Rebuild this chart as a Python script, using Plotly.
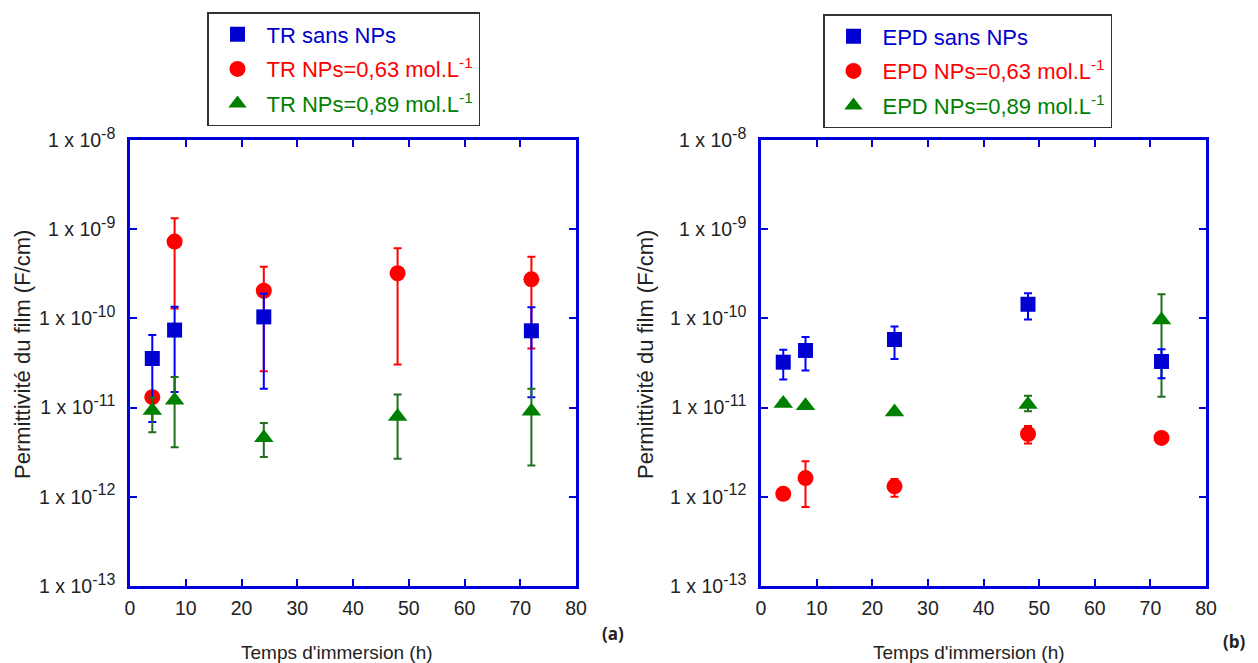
import plotly.graph_objects as go

# ---------------- data ----------------
# Panel (a): TR
tr_sans_h = [4, 8, 24, 72]
tr_sans = [3.55e-11, 7.4e-11, 1.04e-10, 7.26e-11]
tr_sans_hi = [6.5e-11, 1.35e-10, 1.9e-10, 1.33e-10]
tr_sans_lo = [6.9e-12, 1.5e-11, 1.63e-11, 1.31e-11]

tr_063_h = [4, 8, 24, 48, 72]
tr_063 = [1.31e-11, 7.26e-10, 2.04e-10, 3.21e-10, 2.74e-10]
tr_063_hi = [1.31e-11, 1.33e-9, 3.8e-10, 6.1e-10, 4.9e-10]
tr_063_lo = [1.31e-11, 1.29e-10, 2.56e-11, 3.04e-11, 4.6e-11]

tr_089_h = [4, 8, 24, 48, 72]
tr_089 = [9.3e-12, 1.21e-11, 4.6e-12, 7.97e-12, 9.1e-12]
tr_089_hi = [1.3e-11, 2.2e-11, 6.7e-12, 1.4e-11, 1.63e-11]
tr_089_lo = [5.3e-12, 3.6e-12, 2.8e-12, 2.67e-12, 2.25e-12]

# Panel (b): EPD
epd_sans_h = [4, 8, 24, 48, 72]
epd_sans = [3.23e-11, 4.37e-11, 5.8e-11, 1.44e-10, 3.29e-11]
epd_sans_hi = [4.45e-11, 6.2e-11, 8.1e-11, 1.91e-10, 4.5e-11]
epd_sans_lo = [2.06e-11, 2.6e-11, 3.5e-11, 9.7e-11, 2.14e-11]

epd_063_h = [4, 8, 24, 48, 72]
epd_063 = [1.08e-12, 1.62e-12, 1.31e-12, 5.06e-12, 4.57e-12]
epd_063_hi = [1.08e-12, 2.5e-12, 1.58e-12, 6.2e-12, 4.57e-12]
epd_063_lo = [1.08e-12, 7.7e-13, 1.0e-12, 3.95e-12, 4.57e-12]

epd_089_h = [4, 8, 24, 48, 72]
epd_089 = [1.11e-11, 1.05e-11, 8.95e-12, 1.08e-11, 9.6e-11]
epd_089_hi = [1.2e-11, 1.05e-11, 8.95e-12, 1.36e-11, 1.86e-10]
epd_089_lo = [1.05e-11, 1.05e-11, 8.95e-12, 9.1e-12, 1.32e-11]

x_ticks = [0, 10, 20, 30, 40, 50, 60, 70, 80]
y_exponents = [-13, -12, -11, -10, -9, -8]
y_ticks = [10.0 ** e for e in y_exponents]
y_ticktext = ["1 x 10<sup><span style='font-size:16px'>%d</span></sup>" % e
              for e in y_exponents]

x_title = "Temps d'immersion (h)"
y_title = "Permittivité du film (F/cm)"

# ---------------- styles ----------------
BLUE = "#0000d0"
BLUE_ERR = "#0000ff"
RED = "#ff0000"
GREEN = "#008000"
GREEN_ERR = "#1f6f1f"
AXIS = "#0000dd"
FONT = "Liberation Sans, Arial, sans-serif"
TXT = "#222222"

# the page body has an 8px margin: figure is drawn at (8, 8)
OFF = 8
W, H = 1258 - OFF, 663 - OFF


def px(x):
    return (x - OFF) / W


def py(y):
    return 1 - (y - OFF) / H


def err(vals, hi, lo):
    return [h - v for v, h in zip(vals, hi)], [v - l for v, l in zip(vals, lo)]


def series(x, y, hi, lo, name, color, ecolor, symbol, size, xa, ya, legend, rank):
    up, down = err(y, hi, lo)
    return go.Scatter(
        x=x, y=y, mode="markers", name=name,
        marker=dict(color=color, symbol=symbol, size=size, line=dict(width=0)),
        error_y=dict(type="data", array=up, arrayminus=down, symmetric=False,
                     color=ecolor, thickness=2, width=4),
        xaxis=xa, yaxis=ya, legend=legend, legendrank=rank,
        legendgroup=name,
    )


def lab(text, color):
    return "<span style='color:%s'>%s</span>" % (color, text)


fig = go.Figure()

# Panel (a) traces (draw order: red, blue, green)
fig.add_trace(series(tr_063_h, tr_063, tr_063_hi, tr_063_lo,
                     lab("TR NPs=0,63 mol.L<sup>-1</sup>", RED), RED, RED,
                     "circle", 16, "x", "y", "legend", 2))
fig.add_trace(series(tr_sans_h, tr_sans, tr_sans_hi, tr_sans_lo,
                     lab("TR sans NPs", BLUE), BLUE, BLUE_ERR,
                     "square", 15, "x", "y", "legend", 1))
fig.add_trace(series(tr_089_h, tr_089, tr_089_hi, tr_089_lo,
                     lab("TR NPs=0,89 mol.L<sup>-1</sup>", GREEN), GREEN, GREEN_ERR,
                     "triangle-up", 17, "x", "y", "legend", 3))

# Panel (b) traces (draw order: red, green, blue)
fig.add_trace(series(epd_063_h, epd_063, epd_063_hi, epd_063_lo,
                     lab("EPD NPs=0,63 mol.L<sup>-1</sup>", RED), RED, RED,
                     "circle", 16, "x2", "y2", "legend2", 2))
fig.add_trace(series(epd_089_h, epd_089, epd_089_hi, epd_089_lo,
                     lab("EPD NPs=0,89 mol.L<sup>-1</sup>", GREEN), GREEN, GREEN_ERR,
                     "triangle-up", 17, "x2", "y2", "legend2", 3))
fig.add_trace(series(epd_sans_h, epd_sans, epd_sans_hi, epd_sans_lo,
                     lab("EPD sans NPs", BLUE), BLUE, BLUE_ERR,
                     "square", 15, "x2", "y2", "legend2", 1))

xl0, xl1 = 130, 576
xr0, xr1 = 761, 1206
yt, yb = 140, 586

axis_common = dict(
    showline=True, linecolor=AXIS, linewidth=2.5, mirror="ticks",
    ticks="inside", ticklen=7, tickwidth=2, tickcolor=AXIS,
    showgrid=False, zeroline=False,
    tickfont=dict(family=FONT, size=19.5, color=TXT),
)

xaxis_common = dict(axis_common, range=[0, 80], tickvals=x_ticks, automargin=False,
                    ticklabelstandoff=3)
yaxis_common = dict(axis_common, type="log", range=[-13, -8], tickvals=y_ticks,
                    ticktext=y_ticktext, automargin=False, ticklabelstandoff=8)

legend_common = dict(
    bgcolor="white", bordercolor="#333333", borderwidth=1.5,
    font=dict(family=FONT, size=22),
    xanchor="left", yanchor="top", traceorder="grouped", tracegroupgap=3,
    itemwidth=48,
)

fig.update_layout(
    width=W, height=H,
    margin=dict(l=0, r=0, t=0, b=0),
    paper_bgcolor="white", plot_bgcolor="white",
    showlegend=True,
    xaxis=dict(xaxis_common, domain=[px(xl0), px(xl1)], anchor="y"),
    yaxis=dict(yaxis_common, domain=[py(yb), py(yt)], anchor="x"),
    xaxis2=dict(xaxis_common, domain=[px(xr0), px(xr1)], anchor="y2"),
    yaxis2=dict(yaxis_common, domain=[py(yb), py(yt)], anchor="x2"),
    legend=dict(legend_common, x=px(207), y=py(12)),
    legend2=dict(legend_common, x=px(823), y=py(14)),
)

ann_font = dict(family=FONT, size=19, color=TXT)
annotations = [
    dict(text=x_title, x=px(337), y=py(652), xref="paper", yref="paper",
         showarrow=False, font=ann_font, xanchor="center", yanchor="middle"),
    dict(text=x_title, x=px(969), y=py(652), xref="paper", yref="paper",
         showarrow=False, font=ann_font, xanchor="center", yanchor="middle"),
    dict(text=y_title, x=px(22), y=py(355), xref="paper", yref="paper", textangle=-90,
         showarrow=False, font=dict(family=FONT, size=22, color=TXT),
         xanchor="center", yanchor="middle"),
    dict(text=y_title, x=px(645), y=py(355), xref="paper", yref="paper", textangle=-90,
         showarrow=False, font=dict(family=FONT, size=22, color=TXT),
         xanchor="center", yanchor="middle"),
    dict(text="<b>(a)</b>", x=px(613), y=py(633), xref="paper", yref="paper",
         showarrow=False, font=dict(family="Open Sans, sans-serif", size=17, color=TXT),
         xanchor="center", yanchor="middle"),
    dict(text="<b>(b)</b>", x=px(1248), y=py(641), xref="paper", yref="paper",
         showarrow=False, font=dict(family="Open Sans, sans-serif", size=17, color=TXT),
         xanchor="right", yanchor="middle"),
]
fig.update_layout(annotations=annotations)

fig.write_html("out.html")
